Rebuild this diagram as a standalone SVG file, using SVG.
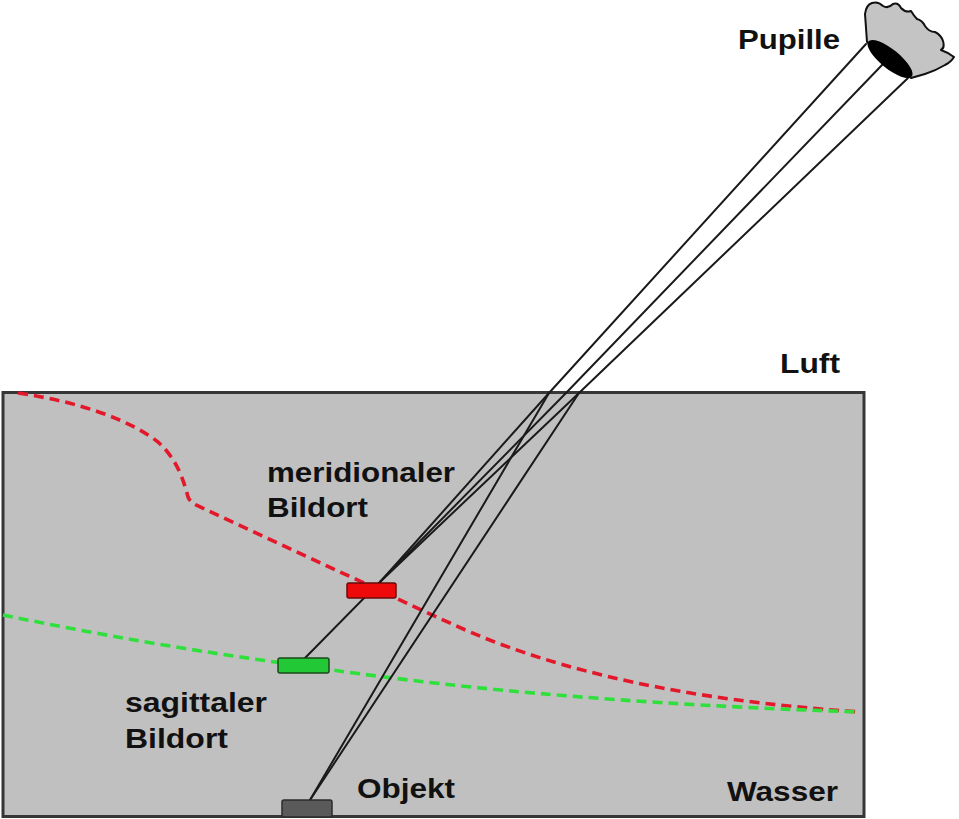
<svg xmlns="http://www.w3.org/2000/svg" width="959" height="819" viewBox="0 0 959 819">
<style>
.lbl{font-family:"Liberation Sans",Arial,sans-serif;font-weight:bold;font-size:27px;fill:#111111}
.ray{stroke:#1a1a1a;stroke-width:2;fill:none;stroke-linecap:round}
.red{stroke:#e3192b;stroke-width:3.6;fill:none;stroke-dasharray:10 6}
.grn{stroke:#2fe03c;stroke-width:3.6;fill:none;stroke-dasharray:10 6}
</style>
<rect width="959" height="819" fill="#ffffff"/>
<g id="water">
<rect x="3" y="392.5" width="861" height="424" fill="#c0c0c0" stroke="#363636" stroke-width="3"/>
</g>
<g id="curves">
<path class="red" d="M 18,393 C 80,402 130,420 158,442 C 178,460 184,482 188,497 Q 190,502 196,505 L 340,572 C 380,590 420,610 470,632 C 560,670 680,700 860,712"/>
<path class="grn" d="M 3,615 C 100,635 200,652 290,664 C 400,680 560,702 860,712"/>
</g>
<g id="connectors">
<line class="ray" x1="866" y1="44" x2="549" y2="393"/>
<line class="ray" x1="883" y1="64" x2="566" y2="393"/>
<line class="ray" x1="908" y1="78" x2="579" y2="393"/>
<line class="ray" x1="549" y1="393" x2="380" y2="582"/>
<line class="ray" x1="579" y1="393" x2="380" y2="582"/>
<line class="ray" x1="566" y1="393" x2="305" y2="658"/>
<line class="ray" x1="549" y1="393" x2="310" y2="800"/>
<line class="ray" x1="579" y1="393" x2="310" y2="800"/>
</g>
<g id="pupil">
<path d="M 867,42 L 865,14 Q 866,5 872,3 Q 878,1 883,6 Q 888,9 893,4 Q 898,2 901,8 Q 906,13 911,11 Q 914,16 917,19 Q 922,20 925,26 Q 929,32 935,32 Q 941,35 943,41 Q 945,48 941,50 Q 947,52 954,57 Q 951,62 945,65 Q 935,71 925,74 L 911,78 Z" fill="#c4c4c4" stroke="#111" stroke-width="2" stroke-linejoin="round"/>
<ellipse cx="890" cy="59" rx="28" ry="9.5" transform="rotate(39 890 59)" fill="#000"/>
</g>
<g id="meridional-image">
<rect x="347" y="583" width="49" height="15" rx="2" fill="#ee0a0a" stroke="#6a0a0a" stroke-width="1.5"/>
</g>
<g id="sagittal-image">
<rect x="278" y="658" width="51" height="15" rx="2" fill="#22c836" stroke="#1a4a1a" stroke-width="1.5"/>
</g>
<g id="object">
<rect x="282" y="800" width="50" height="17" rx="2" fill="#5a5a5a" stroke="#2c2c2c" stroke-width="1.5"/>
</g>
<g id="labels">
<text class="lbl" x="738" y="49" textLength="102" lengthAdjust="spacingAndGlyphs">Pupille</text>
<text class="lbl" x="780" y="373" textLength="60" lengthAdjust="spacingAndGlyphs">Luft</text>
<text class="lbl" x="267" y="482" textLength="188" lengthAdjust="spacingAndGlyphs">meridionaler</text>
<text class="lbl" x="267" y="517" textLength="101" lengthAdjust="spacingAndGlyphs">Bildort</text>
<text class="lbl" x="125" y="712" textLength="142" lengthAdjust="spacingAndGlyphs">sagittaler</text>
<text class="lbl" x="125" y="748" textLength="103" lengthAdjust="spacingAndGlyphs">Bildort</text>
<text class="lbl" x="357" y="798" textLength="98" lengthAdjust="spacingAndGlyphs">Objekt</text>
<text class="lbl" x="727" y="801" textLength="111" lengthAdjust="spacingAndGlyphs">Wasser</text>
</g>
</svg>
